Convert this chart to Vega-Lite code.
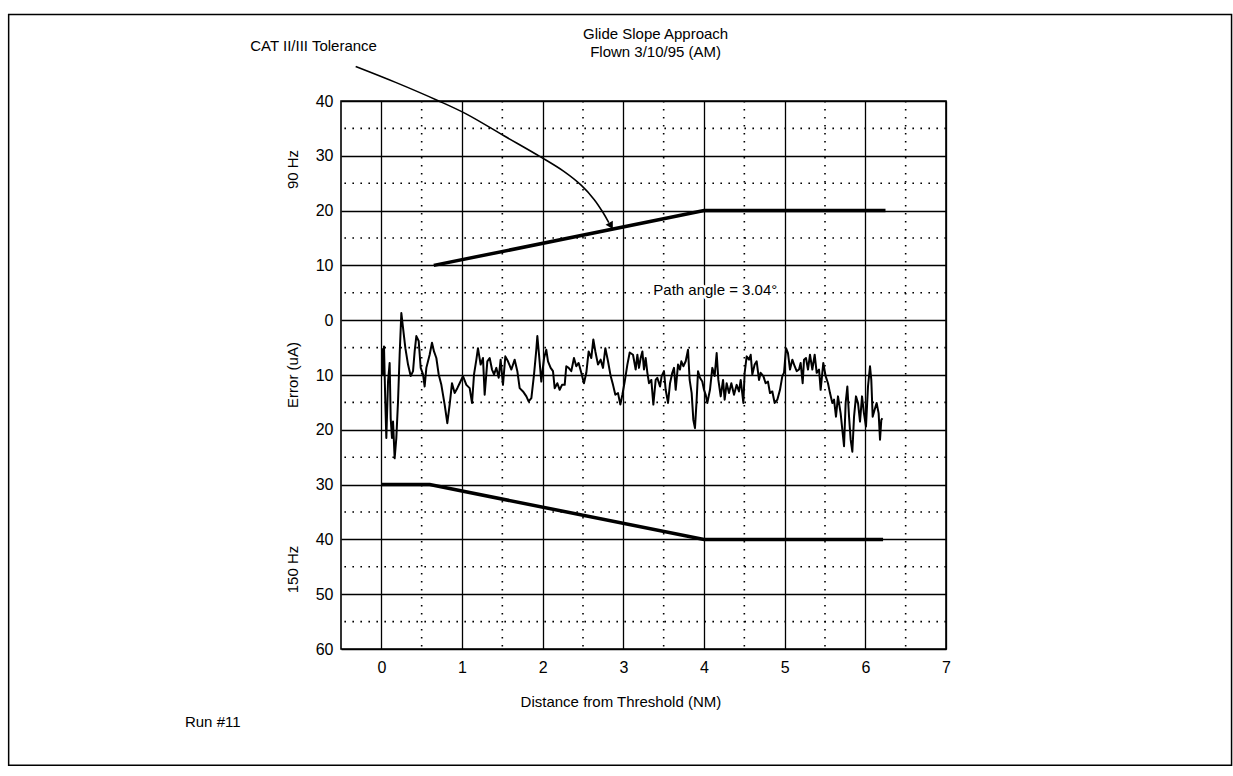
{
  "$schema": "https://vega.github.io/schema/vega-lite/v6.json",
  "width": 605,
  "height": 548,
  "autosize": {"type": "none"},
  "padding": {"left": 341, "top": 101, "right": 287, "bottom": 127},
  "background": "white",
  "datasets": {
    "trace": [
      {"x":0.008,"y":-5.1},{"x":0.021,"y":-9.9},{"x":0.033,"y":-4.8},{"x":0.05,"y":-15.4},{"x":0.062,"y":-21.5},
      {"x":0.083,"y":-11.2},{"x":0.103,"y":-7.8},{"x":0.116,"y":-17.9},{"x":0.132,"y":-21.5},{"x":0.145,"y":-18.5},
      {"x":0.165,"y":-25.2},{"x":0.186,"y":-21.5},{"x":0.207,"y":-14.8},{"x":0.227,"y":-6.3},{"x":0.248,"y":1.3},
      {"x":0.269,"y":-1.4},{"x":0.298,"y":-5.1},{"x":0.331,"y":-8.1},{"x":0.364,"y":-10.2},{"x":0.393,"y":-9.3},
      {"x":0.413,"y":-5.7},{"x":0.434,"y":-2.9},{"x":0.463,"y":-3.8},{"x":0.488,"y":-8.7},{"x":0.517,"y":-9.9},
      {"x":0.537,"y":-12.1},{"x":0.558,"y":-8.7},{"x":0.599,"y":-6.3},{"x":0.628,"y":-4.1},{"x":0.653,"y":-5.7},
      {"x":0.682,"y":-6.9},{"x":0.711,"y":-9.9},{"x":0.744,"y":-11.8},{"x":0.785,"y":-15.4},{"x":0.818,"y":-18.8},
      {"x":0.847,"y":-15.4},{"x":0.876,"y":-11.5},{"x":0.909,"y":-13.3},{"x":0.942,"y":-12.4},{"x":0.971,"y":-11.5},
      {"x":1.012,"y":-10.2},{"x":1.054,"y":-11.8},{"x":1.095,"y":-12.4},{"x":1.124,"y":-15.1},{"x":1.149,"y":-9.9},
      {"x":1.178,"y":-7.2},{"x":1.198,"y":-5.1},{"x":1.231,"y":-8.1},{"x":1.26,"y":-6.9},{"x":1.281,"y":-13.6},
      {"x":1.314,"y":-7.5},{"x":1.343,"y":-6.9},{"x":1.372,"y":-9.0},{"x":1.397,"y":-9.9},{"x":1.426,"y":-8.7},
      {"x":1.455,"y":-10.5},{"x":1.479,"y":-7.2},{"x":1.508,"y":-11.8},{"x":1.537,"y":-6.6},{"x":1.57,"y":-7.5},
      {"x":1.612,"y":-9.0},{"x":1.653,"y":-7.2},{"x":1.686,"y":-9.3},{"x":1.715,"y":-12.4},{"x":1.756,"y":-13.0},
      {"x":1.798,"y":-13.9},{"x":1.826,"y":-14.8},{"x":1.86,"y":-14.2},{"x":1.893,"y":-9.9},{"x":1.921,"y":-5.4},
      {"x":1.934,"y":-2.9},{"x":1.955,"y":-6.3},{"x":1.983,"y":-11.2},{"x":2.017,"y":-6.9},{"x":2.045,"y":-5.4},
      {"x":2.066,"y":-7.5},{"x":2.099,"y":-8.7},{"x":2.128,"y":-9.3},{"x":2.149,"y":-12.4},{"x":2.182,"y":-11.5},
      {"x":2.211,"y":-12.7},{"x":2.24,"y":-11.8},{"x":2.273,"y":-11.8},{"x":2.293,"y":-8.4},{"x":2.322,"y":-8.7},
      {"x":2.355,"y":-9.3},{"x":2.388,"y":-6.9},{"x":2.417,"y":-8.4},{"x":2.446,"y":-7.8},{"x":2.479,"y":-9.6},
      {"x":2.512,"y":-11.5},{"x":2.541,"y":-9.6},{"x":2.57,"y":-5.7},{"x":2.603,"y":-6.9},{"x":2.628,"y":-3.5},
      {"x":2.653,"y":-5.7},{"x":2.686,"y":-8.1},{"x":2.719,"y":-7.2},{"x":2.748,"y":-8.7},{"x":2.777,"y":-5.1},
      {"x":2.81,"y":-7.5},{"x":2.843,"y":-10.2},{"x":2.872,"y":-11.8},{"x":2.901,"y":-13.6},{"x":2.934,"y":-13.3},
      {"x":2.963,"y":-15.4},{"x":2.988,"y":-13.6},{"x":3.017,"y":-11.2},{"x":3.05,"y":-8.1},{"x":3.079,"y":-5.9},
      {"x":3.12,"y":-6.3},{"x":3.153,"y":-9.0},{"x":3.174,"y":-6.3},{"x":3.194,"y":-8.7},{"x":3.215,"y":-6.9},
      {"x":3.236,"y":-5.7},{"x":3.256,"y":-9.0},{"x":3.277,"y":-6.9},{"x":3.298,"y":-9.6},{"x":3.318,"y":-11.5},
      {"x":3.347,"y":-10.9},{"x":3.372,"y":-15.4},{"x":3.401,"y":-10.9},{"x":3.421,"y":-10.5},{"x":3.455,"y":-12.1},
      {"x":3.475,"y":-10.2},{"x":3.504,"y":-9.3},{"x":3.525,"y":-12.7},{"x":3.554,"y":-15.1},{"x":3.579,"y":-11.5},
      {"x":3.607,"y":-9.6},{"x":3.628,"y":-8.7},{"x":3.649,"y":-12.7},{"x":3.678,"y":-8.1},{"x":3.702,"y":-9.0},
      {"x":3.719,"y":-7.5},{"x":3.744,"y":-8.4},{"x":3.773,"y":-7.5},{"x":3.802,"y":-5.4},{"x":3.822,"y":-10.9},
      {"x":3.847,"y":-13.3},{"x":3.868,"y":-18.2},{"x":3.888,"y":-19.7},{"x":3.909,"y":-14.5},{"x":3.926,"y":-9.3},
      {"x":3.95,"y":-10.5},{"x":3.979,"y":-11.2},{"x":4.0,"y":-12.7},{"x":4.021,"y":-13.6},{"x":4.041,"y":-15.1},
      {"x":4.074,"y":-12.7},{"x":4.103,"y":-8.7},{"x":4.132,"y":-10.2},{"x":4.157,"y":-6.0},{"x":4.178,"y":-10.9},
      {"x":4.207,"y":-13.9},{"x":4.236,"y":-10.9},{"x":4.256,"y":-14.5},{"x":4.281,"y":-11.5},{"x":4.31,"y":-13.3},
      {"x":4.339,"y":-11.5},{"x":4.372,"y":-13.6},{"x":4.405,"y":-11.8},{"x":4.434,"y":-13.0},{"x":4.455,"y":-10.9},
      {"x":4.488,"y":-15.1},{"x":4.504,"y":-9.6},{"x":4.529,"y":-6.6},{"x":4.558,"y":-7.2},{"x":4.579,"y":-6.3},
      {"x":4.599,"y":-9.9},{"x":4.628,"y":-8.1},{"x":4.653,"y":-7.5},{"x":4.682,"y":-10.9},{"x":4.702,"y":-9.6},
      {"x":4.736,"y":-10.2},{"x":4.764,"y":-11.5},{"x":4.793,"y":-11.2},{"x":4.818,"y":-13.3},{"x":4.847,"y":-13.0},
      {"x":4.876,"y":-15.1},{"x":4.909,"y":-14.5},{"x":4.942,"y":-12.7},{"x":4.971,"y":-10.2},{"x":4.992,"y":-9.6},
      {"x":5.017,"y":-5.1},{"x":5.041,"y":-6.0},{"x":5.066,"y":-9.0},{"x":5.095,"y":-7.2},{"x":5.124,"y":-8.4},
      {"x":5.149,"y":-9.3},{"x":5.178,"y":-9.0},{"x":5.198,"y":-7.8},{"x":5.223,"y":-11.5},{"x":5.24,"y":-7.2},
      {"x":5.264,"y":-6.9},{"x":5.289,"y":-9.0},{"x":5.314,"y":-6.3},{"x":5.343,"y":-9.0},{"x":5.372,"y":-6.3},
      {"x":5.397,"y":-9.6},{"x":5.426,"y":-9.0},{"x":5.446,"y":-12.7},{"x":5.479,"y":-7.8},{"x":5.508,"y":-10.2},
      {"x":5.537,"y":-11.5},{"x":5.562,"y":-13.3},{"x":5.591,"y":-15.1},{"x":5.612,"y":-14.5},{"x":5.636,"y":-17.6},
      {"x":5.661,"y":-13.9},{"x":5.694,"y":-17.0},{"x":5.715,"y":-20.0},{"x":5.736,"y":-23.0},{"x":5.756,"y":-15.1},
      {"x":5.777,"y":-12.1},{"x":5.798,"y":-17.6},{"x":5.818,"y":-21.8},{"x":5.839,"y":-24.0},{"x":5.86,"y":-17.6},
      {"x":5.884,"y":-13.9},{"x":5.909,"y":-15.1},{"x":5.934,"y":-18.5},{"x":5.959,"y":-13.9},{"x":5.983,"y":-17.0},
      {"x":6.008,"y":-19.4},{"x":6.033,"y":-12.1},{"x":6.058,"y":-8.4},{"x":6.074,"y":-10.9},{"x":6.091,"y":-17.6},
      {"x":6.116,"y":-16.3},{"x":6.14,"y":-15.1},{"x":6.165,"y":-17.0},{"x":6.182,"y":-21.8},{"x":6.198,"y":-18.2},
      {"x":6.211,"y":-17.9}
    ],
    "tolerance": [
      {"bound":"90 Hz","x":0.65,"y":10},{"bound":"90 Hz","x":4.0,"y":20},{"bound":"90 Hz","x":6.25,"y":20},
      {"bound":"150 Hz","x":0.0,"y":-30},{"bound":"150 Hz","x":0.6,"y":-30},{"bound":"150 Hz","x":4.0,"y":-40},{"bound":"150 Hz","x":6.22,"y":-40}
    ],
    "pointer": [
      {"x":-0.318,"y":46.3},{"x":0.177,"y":43.4},{"x":0.698,"y":40.1},{"x":1.045,"y":37.7},{"x":1.515,"y":33.7},
      {"x":1.974,"y":29.8},{"x":2.258,"y":27.2},{"x":2.48,"y":24.6},{"x":2.64,"y":22.0},{"x":2.75,"y":19.6},
      {"x":2.82,"y":17.8}
    ],
    "notes": [
      {"x":3.40,"y":52.3,"label":"Glide Slope Approach"},
      {"x":3.40,"y":48.9,"label":"Flown 3/10/95 (AM)"},
      {"x":-0.84,"y":50.0,"label":"CAT II/III Tolerance"},
      {"x":2.97,"y":-69.7,"label":"Distance from Threshold (NM)"},
      {"x":-2.09,"y":-73.3,"label":"Run #11"}
    ],
    "pathnote": [
      {"x":4.14,"y":5.6,"label":"Path angle = 3.04°"}
    ],
    "vnotes": [
      {"x":-1.1,"y":27.5,"label":"90 Hz"},
      {"x":-1.1,"y":-10.0,"label":"Error (uA)"},
      {"x":-1.1,"y":-45.5,"label":"150 Hz"}
    ],
    "minorx": [
      {"x":0.5},{"x":1.5},{"x":2.5},{"x":3.5},{"x":4.5},{"x":5.5},{"x":6.5}
    ],
    "minory": [
      {"y":35},{"y":25},{"y":15},{"y":5},{"y":-5},{"y":-15},{"y":-25},{"y":-35},{"y":-45},{"y":-55}
    ],
    "frame": [
      {"x":-4.62,"x2":10.54,"y":55.8,"y2":-81.2}
    ]
  },
  "layer": [
    {
      "data": {"name": "frame"},
      "mark": {"type": "rect", "fill": null, "stroke": "black", "strokeWidth": 1.5, "clip": false},
      "encoding": {
        "x": {"field": "x", "type": "quantitative", "title": null},
        "x2": {"field": "x2"},
        "y": {"field": "y", "type": "quantitative", "title": null},
        "y2": {"field": "y2"}
      }
    },
    {
      "data": {"name": "minorx"},
      "mark": {"type": "rule", "color": "black", "strokeWidth": 1.6, "strokeDash": [1.6, 6.4]},
      "encoding": {
        "x": {"field": "x", "type": "quantitative", "title": null}
      }
    },
    {
      "data": {"name": "minory"},
      "mark": {"type": "rule", "color": "black", "strokeWidth": 1.6, "strokeDash": [1.6, 6.4]},
      "encoding": {
        "y": {"field": "y", "type": "quantitative", "title": null}
      }
    },
    {
      "data": {"name": "trace"},
      "mark": {"type": "line", "color": "black", "strokeWidth": 2, "strokeJoin": "round"},
      "encoding": {
        "x": {
          "field": "x", "type": "quantitative", "title": null,
          "scale": {"domain": [-0.5, 7], "nice": false, "zero": false},
          "axis": {
            "values": [0, 1, 2, 3, 4, 5, 6, 7],
            "labelExpr": "format(datum.value, 'd')",
            "domain": false, "ticks": false, "labelFlush": false, "labelOverlap": false,
            "labelPadding": 10,
            "grid": true, "gridColor": "black", "gridWidth": 1.3
          }
        },
        "y": {
          "field": "y", "type": "quantitative", "title": null,
          "scale": {"domain": [-60, 40], "nice": false, "zero": false},
          "axis": {
            "values": [-60, -50, -40, -30, -20, -10, 0, 10, 20, 30, 40],
            "labelExpr": "format(abs(datum.value), 'd')",
            "domain": false, "ticks": false, "labelFlush": false, "labelOverlap": false,
            "labelPadding": 8,
            "grid": true, "gridColor": "black", "gridWidth": 1.3
          }
        }
      }
    },
    {
      "data": {"name": "tolerance"},
      "mark": {"type": "line", "color": "black", "strokeWidth": 3.5},
      "encoding": {
        "x": {"field": "x", "type": "quantitative", "title": null},
        "y": {"field": "y", "type": "quantitative", "title": null},
        "detail": {"field": "bound"}
      }
    },
    {
      "data": {"name": "pointer"},
      "mark": {"type": "line", "color": "black", "strokeWidth": 1.6, "interpolate": "catmull-rom", "clip": false},
      "encoding": {
        "x": {"field": "x", "type": "quantitative", "title": null},
        "y": {"field": "y", "type": "quantitative", "title": null}
      }
    },
    {
      "data": {"values": [{"x": 2.84, "y": 17.4}]},
      "mark": {"type": "point", "shape": "triangle", "filled": true, "color": "black", "size": 70, "angle": 150, "opacity": 1},
      "encoding": {
        "x": {"field": "x", "type": "quantitative", "title": null},
        "y": {"field": "y", "type": "quantitative", "title": null}
      }
    },
    {
      "data": {"name": "pathnote"},
      "mark": {"type": "text", "font": "Liberation Sans", "fontSize": 15, "color": "black", "align": "center", "baseline": "middle", "stroke": "white", "strokeWidth": 5, "strokeOpacity": 1, "strokeJoin": "round"},
      "encoding": {
        "x": {"field": "x", "type": "quantitative", "title": null},
        "y": {"field": "y", "type": "quantitative", "title": null},
        "text": {"field": "label"}
      }
    },
    {
      "data": {"name": "pathnote"},
      "mark": {"type": "text", "font": "Liberation Sans", "fontSize": 15, "color": "black", "align": "center", "baseline": "middle"},
      "encoding": {
        "x": {"field": "x", "type": "quantitative", "title": null},
        "y": {"field": "y", "type": "quantitative", "title": null},
        "text": {"field": "label"}
      }
    },
    {
      "data": {"name": "notes"},
      "mark": {"type": "text", "font": "Liberation Sans", "fontSize": 15, "color": "black", "align": "center", "baseline": "middle", "clip": false},
      "encoding": {
        "x": {"field": "x", "type": "quantitative", "title": null},
        "y": {"field": "y", "type": "quantitative", "title": null},
        "text": {"field": "label"}
      }
    },
    {
      "data": {"name": "vnotes"},
      "mark": {"type": "text", "font": "Liberation Sans", "fontSize": 15, "color": "black", "align": "center", "baseline": "middle", "angle": 270, "clip": false},
      "encoding": {
        "x": {"field": "x", "type": "quantitative", "title": null},
        "y": {"field": "y", "type": "quantitative", "title": null},
        "text": {"field": "label"}
      }
    }
  ],
  "config": {
    "view": {"stroke": "black", "strokeWidth": 1.6},
    "axis": {
      "labelFont": "Liberation Sans",
      "labelFontSize": 16,
      "labelColor": "black"
    }
  }
}
